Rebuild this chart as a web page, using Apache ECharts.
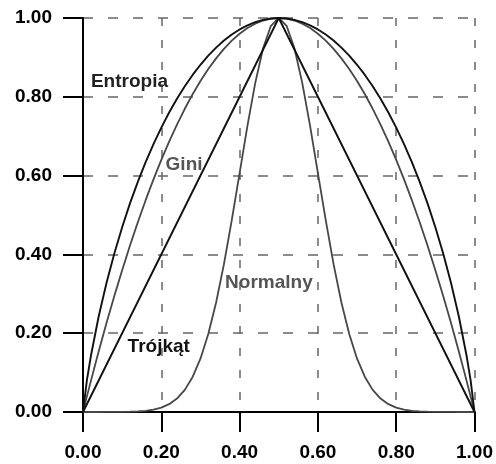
<!DOCTYPE html>
<html>
<head>
<meta charset="utf-8">
<script src="https://cdn.jsdelivr.net/npm/echarts@6/dist/echarts.min.js"></script>
<style>
  html, body { margin: 0; padding: 0; background: #fff; }
  #chart { width: 496px; height: 464px; }
</style>
</head>
<body>
<div id="chart"></div>
<script>
// Impurity measures of a two-class split, plotted against the class share p.
const pValues = [0, 0.01, 0.02, 0.04, 0.06, 0.08, 0.10, 0.12, 0.14, 0.16, 0.18, 0.20, 0.22, 0.24,
  0.26, 0.28, 0.30, 0.32, 0.34, 0.36, 0.38, 0.40, 0.42, 0.44, 0.46, 0.48, 0.50, 0.52, 0.54, 0.56,
  0.58, 0.60, 0.62, 0.64, 0.66, 0.68, 0.70, 0.72, 0.74, 0.76, 0.78, 0.80, 0.82, 0.84, 0.86, 0.88,
  0.90, 0.92, 0.94, 0.96, 0.98, 0.99, 1];

const entropia = [0, 0.0808, 0.1414, 0.2423, 0.3274, 0.4022, 0.4690, 0.5294, 0.5842, 0.6343,
  0.6801, 0.7219, 0.7602, 0.7950, 0.8267, 0.8555, 0.8813, 0.9044, 0.9248, 0.9427, 0.9580, 0.9710,
  0.9815, 0.9896, 0.9954, 0.9988, 1, 0.9988, 0.9954, 0.9896, 0.9815, 0.9710, 0.9580, 0.9427,
  0.9248, 0.9044, 0.8813, 0.8555, 0.8267, 0.7950, 0.7602, 0.7219, 0.6801, 0.6343, 0.5842, 0.5294,
  0.4690, 0.4022, 0.3274, 0.2423, 0.1414, 0.0808, 0];

const gini = [0, 0.0396, 0.0784, 0.1536, 0.2256, 0.2944, 0.3600, 0.4224, 0.4816, 0.5376, 0.5904,
  0.6400, 0.6864, 0.7296, 0.7696, 0.8064, 0.8400, 0.8704, 0.8976, 0.9216, 0.9424, 0.9600, 0.9744,
  0.9856, 0.9936, 0.9984, 1, 0.9984, 0.9936, 0.9856, 0.9744, 0.9600, 0.9424, 0.9216, 0.8976,
  0.8704, 0.8400, 0.8064, 0.7696, 0.7296, 0.6864, 0.6400, 0.5904, 0.5376, 0.4816, 0.4224, 0.3600,
  0.2944, 0.2256, 0.1536, 0.0784, 0.0396, 0];

const normalny = [0, 0, 0, 0, 0.0001, 0.0002, 0.0003, 0.0007, 0.0015, 0.0031, 0.0060, 0.0111,
  0.0198, 0.0341, 0.0561, 0.0889, 0.1353, 0.1979, 0.2780, 0.3753, 0.4868, 0.6065, 0.7261, 0.8353,
  0.9231, 0.9802, 1, 0.9802, 0.9231, 0.8353, 0.7261, 0.6065, 0.4868, 0.3753, 0.2780, 0.1979,
  0.1353, 0.0889, 0.0561, 0.0341, 0.0198, 0.0111, 0.0060, 0.0031, 0.0015, 0.0007, 0.0003, 0.0002,
  0.0001, 0, 0, 0, 0];

const trojkatP = [0, 0.5, 1];
const trojkat = [0, 1, 0];

const tickValues = [0, 0.2, 0.4, 0.6, 0.8, 1.0];

const FONT = '"Liberation Sans", Arial, Helvetica, sans-serif';
const BLACK = '#111111';
const GREY = '#474747';

function pairs(xs, ys) { return xs.map((x, i) => [x, ys[i]]); }

// Curve names, anchored by their left end / baseline in data units.
const curveLabels = [
  { text: 'Entropia', at: [0.0203, 0.815], color: '#222222' },
  { text: 'Gini', at: [0.2109, 0.604], color: '#555555' },
  { text: 'Normalny', at: [0.363, 0.303], color: '#555555' },
  { text: 'Trójkąt', at: [0.1139, 0.1427], color: '#111111' }
];

const axisCommon = {
  type: 'value', min: 0, max: 1, interval: 0.2,
  axisLine: { show: true, onZero: false, lineStyle: { color: '#000', width: 2 } },
  axisTick: { show: true, inside: false, length: 20, lineStyle: { color: '#000', width: 2 } },
  axisLabel: {
    margin: 31, color: '#000', fontFamily: FONT, fontWeight: 'bold', fontSize: 19,
    formatter: v => v.toFixed(2),
    showMinLabel: true, showMaxLabel: true
  },
  splitLine: { show: true }
};

const chart = echarts.init(document.getElementById('chart'), null, { renderer: 'canvas' });

const option = {
  animation: false,
  backgroundColor: '#fff',
  grid: { left: 83, right: 18, top: 18, bottom: 52, containLabel: false },
  xAxis: Object.assign({}, axisCommon, {
    splitLine: { show: true, lineStyle: { color: '#666666', width: 1.5, type: [8, 14] } }
  }),
  yAxis: Object.assign({}, axisCommon, {
    splitLine: { show: true, lineStyle: { color: '#666666', width: 1.5, type: [10, 15] } }
  }),
  series: [
    { name: 'Normalny', type: 'line', data: pairs(pValues, normalny), showSymbol: false,
      lineStyle: { color: GREY, width: 1.8 }, z: 3 },
    { name: 'Gini', type: 'line', data: pairs(pValues, gini), showSymbol: false,
      lineStyle: { color: GREY, width: 1.8 }, z: 3 },
    { name: 'Trójkąt', type: 'line', data: pairs(trojkatP, trojkat), showSymbol: false,
      lineStyle: { color: BLACK, width: 1.9 }, z: 4 },
    { name: 'Entropia', type: 'line', data: pairs(pValues, entropia), showSymbol: false,
      lineStyle: { color: BLACK, width: 1.9 }, z: 4 }
  ]
};

chart.setOption(option);

// Place the curve names through the grid's coordinate system.
chart.setOption({
  graphic: curveLabels.map(l => {
    const p = chart.convertToPixel({ gridIndex: 0 }, l.at);
    return {
      type: 'text', x: p[0], y: p[1], z: 10,
      style: {
        text: l.text, fill: l.color, font: 'bold 19px ' + FONT,
        textAlign: 'left', textVerticalAlign: 'bottom'
      }
    };
  })
});
</script>
</body>
</html>
